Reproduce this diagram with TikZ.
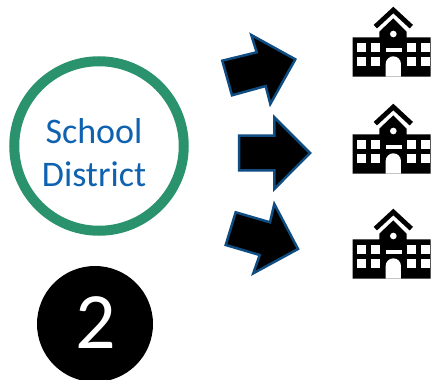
\documentclass[tikz,border=0pt]{standalone}
\usepackage{fontspec}
\setmainfont{Carlito}
\definecolor{ringgreen}{HTML}{2A936E}
\definecolor{txtblue}{HTML}{0F62B0}
\definecolor{arrowblue}{HTML}{0F4C81}
\tikzset{
  bigarrow/.style={fill=black,draw=arrowblue,line width=2.5pt,line join=miter},
  schoolicon/.pic={
    \begin{scope}[x=0.3333pt,y=-0.3333pt]
      \fill[black] (38,112) -- (118,112) -- (118,95) -- (160,55) -- (200,95) -- (200,112) -- (272,112) -- (272,230) -- (38,230) -- cycle;
      \draw[black,line width=4.8pt,line cap=butt,line join=miter] (106,80) -- (160,30) -- (214,80);
      \foreach \wx in {52,92,202,243}{
        \foreach \wy in {130,170}{
          \fill[white] (\wx,\wy) rectangle ++(27,27);
        }
      }
      \fill[white] (137,145) rectangle (185,155);
      \fill[white] (160,102) circle (10);
      \fill[white] (137,230) -- (137,192) arc[start angle=180,end angle=0,x radius=23,y radius=-23] -- (183,230) -- cycle;
    \end{scope}
  }
}
\begin{document}
\begin{tikzpicture}[x=1pt,y=-1pt]
\useasboundingbox (0,0) rectangle (434,380);
\node[circle,draw=ringgreen,line width=10pt,minimum size=169.5pt,inner sep=0pt] (district) at (99,146) {};
\node[align=center,text=txtblue,inner sep=0pt,font=\fontsize{36}{43}\selectfont] (districtlabel) at (94,153) {School\\District};
\node[circle,fill=black,minimum size=116pt,inner sep=0pt] (two) at (95,324) {};
\node[text=white,inner sep=0pt,font=\fontsize{80}{80}\selectfont] (twolabel) at (95.5,323) {2};
\path[bigarrow] (222.3,60.7) -- (256.7,52.3) -- (251.3,35) -- (295.3,59.3) -- (270.3,104) -- (265.7,86) -- (232,95.3) -- cycle;
\path[bigarrow] (239,135.7) -- (274.3,135.7) -- (274.3,117.3) -- (310,153) -- (274.3,189) -- (274.3,170.3) -- (239,170.3) -- cycle;
\path[bigarrow] (235.7,212.3) -- (270,222.3) -- (274.3,204) -- (298,249) -- (253.3,273.3) -- (259.7,255) -- (225.7,245) -- cycle;
\pic at (340,0) {schoolicon};
\pic at (340,97) {schoolicon};
\pic at (340,202) {schoolicon};
\end{tikzpicture}
\end{document}
